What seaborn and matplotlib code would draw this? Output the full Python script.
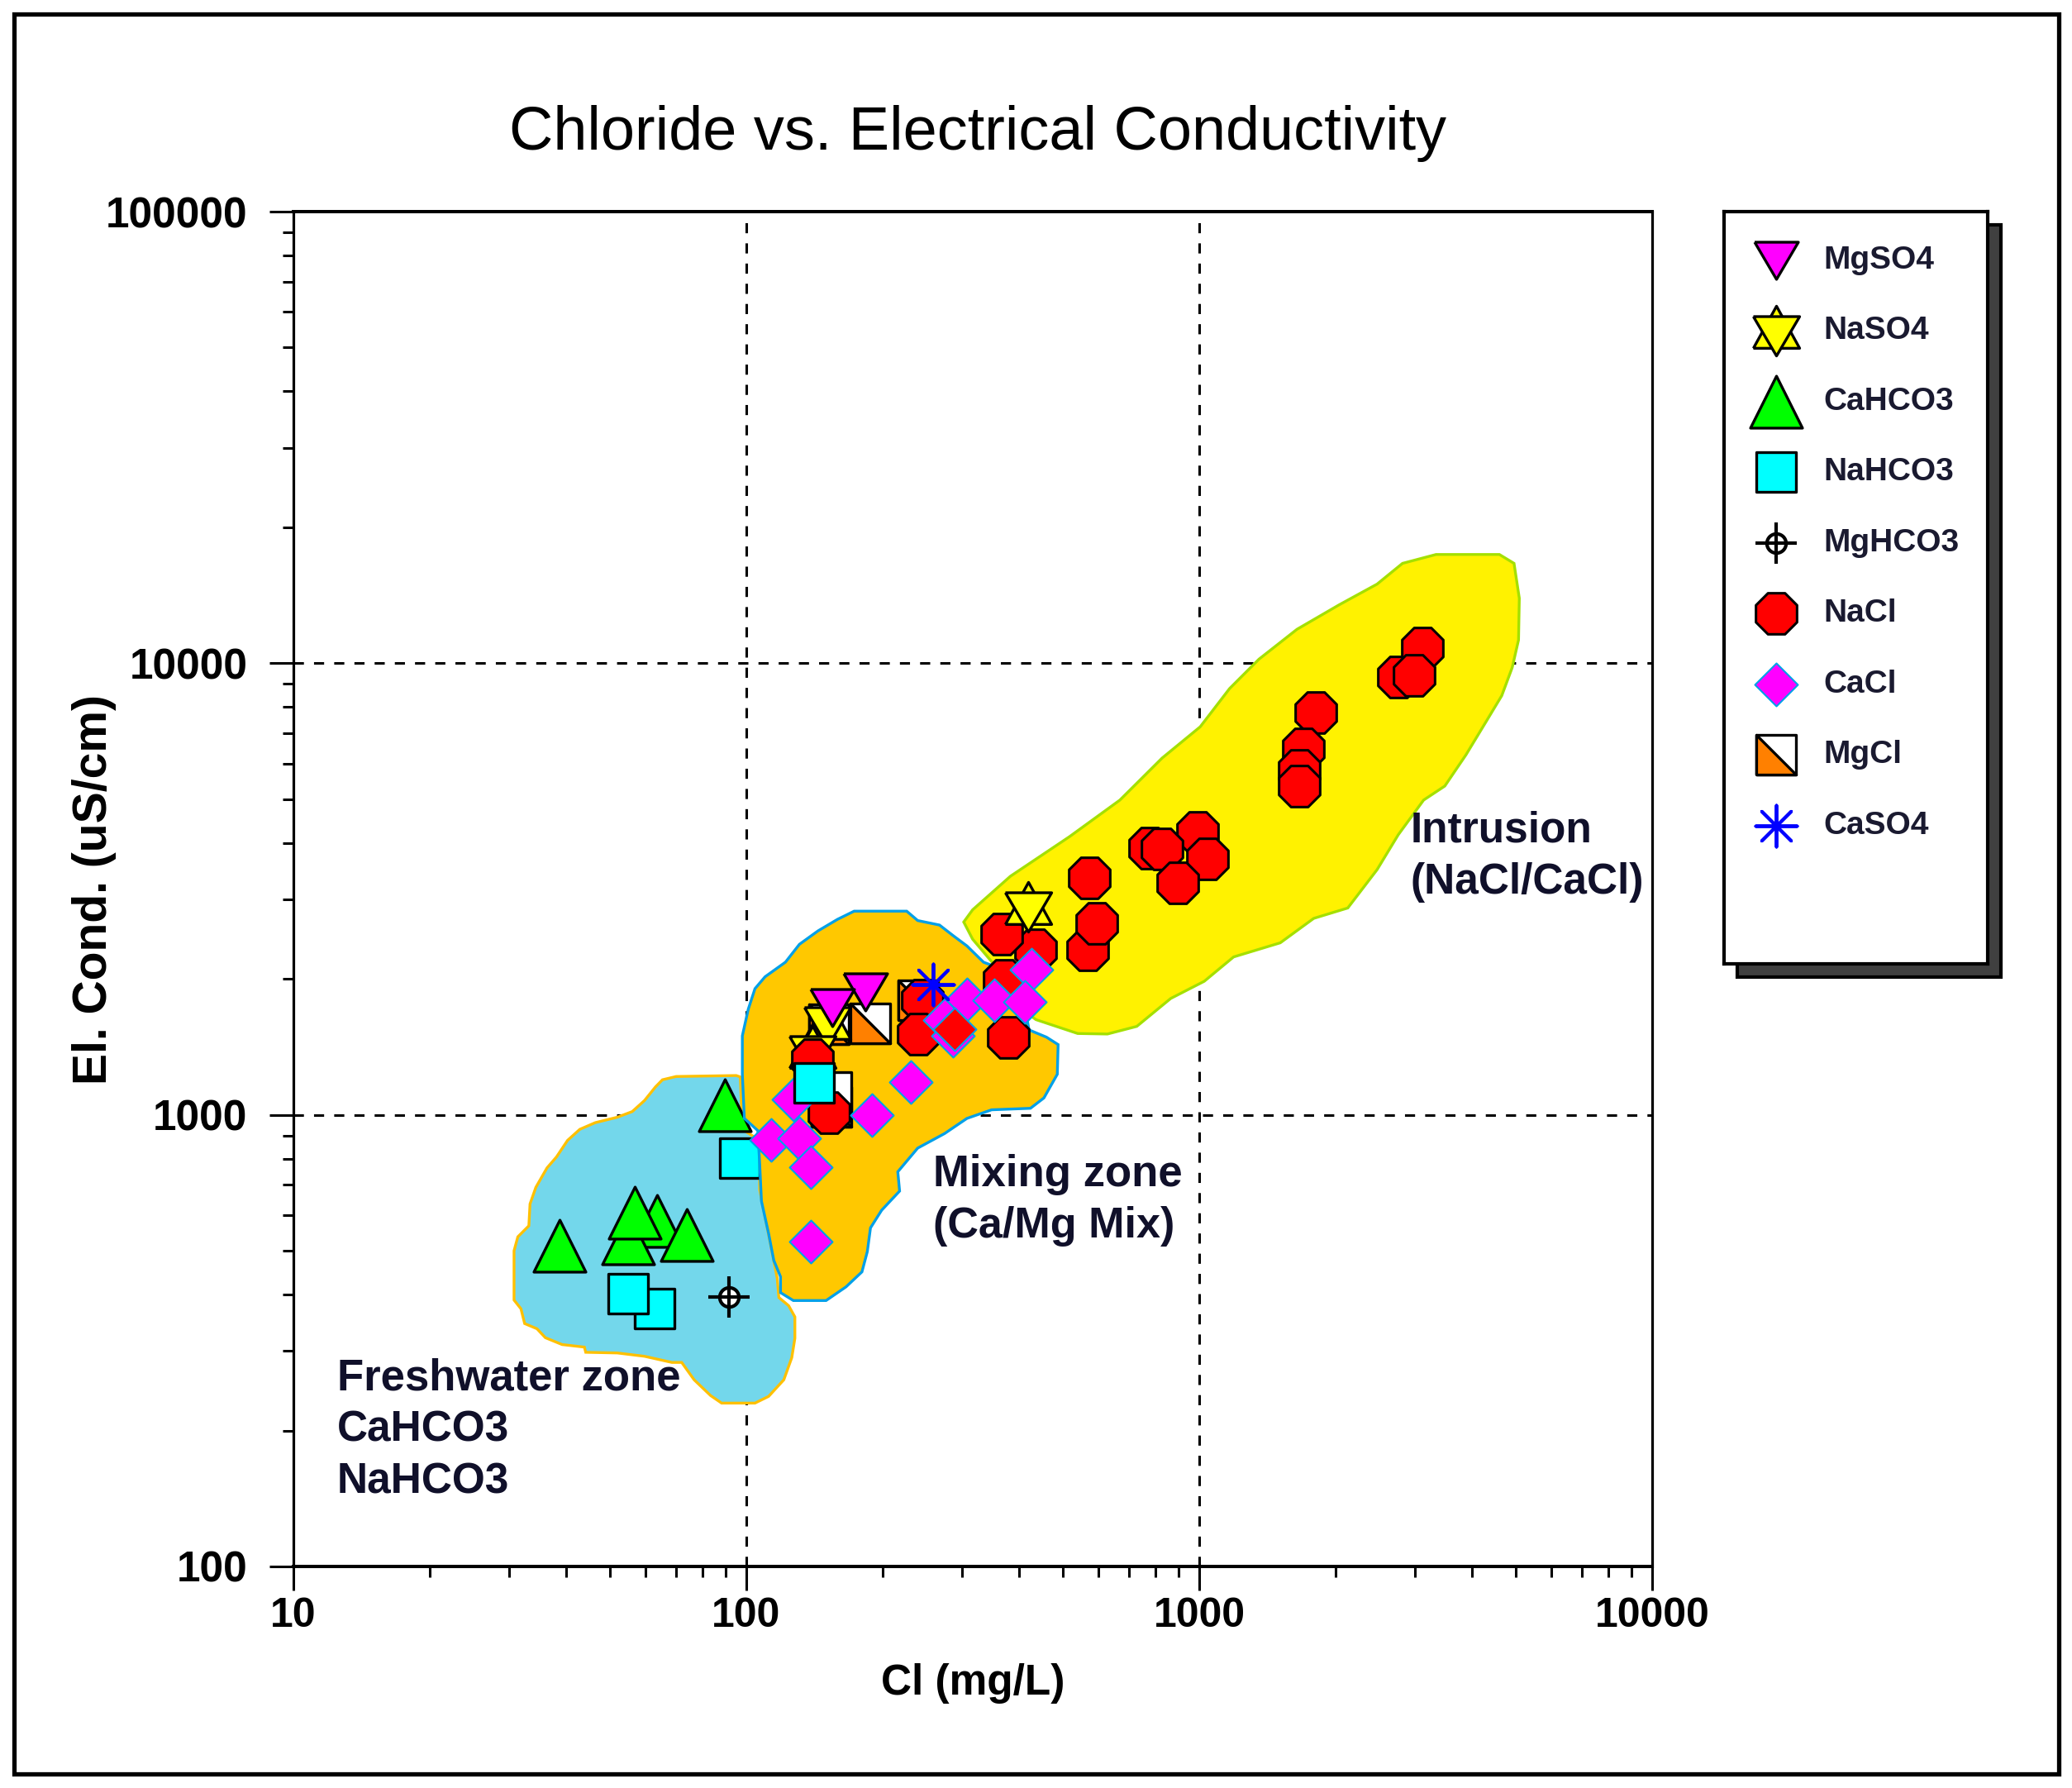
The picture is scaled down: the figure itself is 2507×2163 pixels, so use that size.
import matplotlib
matplotlib.use("Agg")
import matplotlib.pyplot as plt
from matplotlib.patches import Polygon, Rectangle
from matplotlib.ticker import FixedLocator, NullFormatter
import numpy as np
import pandas as pd
import seaborn as sns

sns.set_theme(style="white")
plt.rcParams["font.family"] = ["Liberation Sans", "DejaVu Sans"]

# samples, Cl (mg/L) and EC (uS/cm)
mgso4_cl = [183, 155]
mgso4_ec = [1870, 1730]
naso4_cl = [419, 151, 140]
naso4_ec = [2888, 1609, 1389]
cahco3_cl = [89.7, 38.7, 63.5, 54.8, 56.8, 74]
cahco3_ec = [1052, 514, 583, 533, 608, 542]
nahco3_cl = [96.6, 62.7, 54.8, 141]
nahco3_ec = [803, 372, 401, 1175]
mghco3_cl = [91.6]
mghco3_ec = [395]
nacl_cl = [2754, 3113, 2979, 1807, 1698, 1663, 1663, 993, 777, 827, 1042, 895, 572, 567, 594,
           436, 366, 371, 379, 245, 240, 140, 152]
nacl_ec = [9310, 10790, 9420, 7762, 6471, 5794, 5334, 4217, 3904, 3873, 3681, 3258, 3342, 2323, 2650,
           2323, 2518, 1982, 1486, 1791, 1507, 1327, 1012]
cacl_cl = [231, 189, 127, 113.5, 131, 139, 139, 307, 352, 426, 412, 274, 286]
cacl_ec = [1183, 1000, 1084, 881, 889, 765, 525, 1803, 1791, 2099, 1778, 1622, 1494]
mgcl_cl = [188, 240, 154, 154, 152]
mgcl_ec = [1596, 1791, 1042, 1125, 1589]
caso4_cl = [259]
caso4_ec = [1941]
red_diamond_cl = [288]
red_diamond_ec = [1545]

# zone outlines
fresh_cl = [95, 70, 65.3, 63, 59.6, 56, 51.9, 46.4, 42.9, 40.3, 38.1, 36.3, 34.3, 33.3, 33.1, 31.3, 30.7, 30.7,
            31.8, 32.4, 34.5, 36, 39.2, 43.9, 44.2, 51.9, 59.6, 68.5, 72, 76.7, 83.4, 88.2, 104.5, 112, 121, 126,
            128, 128, 124, 118, 117, 107, 107, 98, 97]
fresh_ec = [1222, 1216, 1196, 1153, 1076, 1017, 988, 961, 929, 878, 807, 763, 691, 635, 568, 537, 500, 389,
            372, 345, 336, 321, 310, 306, 298, 297, 292, 283, 283, 259, 239, 230, 230, 238, 259, 290,
            320, 357, 378, 394, 435, 683, 878, 929, 1213]
mixing_cl = [98, 98, 101, 104.5, 110, 122, 131, 144, 159, 173, 226, 239, 267, 286, 307, 334, 368, 389, 415, 421,
             460, 488, 486, 454, 424, 348, 307, 274, 239, 216, 218, 199, 188, 185, 180, 166, 150, 127, 119, 119,
             115, 112, 108, 107, 106, 99]
mixing_ec = [1230, 1496, 1714, 1903, 2022, 2178, 2386, 2555, 2710, 2825, 2825, 2693, 2632, 2495, 2366, 2178, 2099,
             1845, 1663, 1542, 1486, 1431, 1230, 1090, 1034, 1026, 982, 909, 844, 748, 678, 615, 562, 498, 449, 416,
             388, 388, 404, 438, 476, 546, 644, 783, 923, 982]
intrusion_cl = [302, 316, 383, 517, 668, 828, 1005, 1167, 1355, 1644, 2037, 2470, 2811, 3333, 4600, 4955, 5090,
                5070, 4909, 4655, 4320, 3880, 3485, 3129, 2750, 2470, 2128, 1790, 1510, 1191, 1026, 865, 728, 627,
                539, 436, 404, 383, 351, 316]
intrusion_ec = [2673, 2845, 3376, 4130, 4977, 6166, 7232, 8790, 10210, 11890, 13470, 14970, 16640, 17410, 17410,
                16640, 13930, 11260, 9780, 8475, 7485, 6266, 5346, 4977, 4169, 3491, 2871, 2723, 2404, 2237, 1976,
                1810, 1570, 1510, 1514, 1625, 1716, 1875, 2162, 2449]

legend_names = ["MgSO4", "NaSO4", "CaHCO3", "NaHCO3", "MgHCO3", "NaCl", "CaCl", "MgCl", "CaSO4"]
x_ticks = [10, 100, 1000, 10000]
y_ticks = [100, 1000, 10000, 100000]

W, H = 2507, 2163
BLACK = "#000000"
# custom triangle markers, closed so that every side gets its edge
lower_tri = [(-1, -1), (1, -1), (-1, 1), (-1, -1)]
flat_down = [(-1, 0.85), (1, 0.85), (0, -0.85), (-1, 0.85)]
star_down = [(-1, 0.625), (1, 0.625), (0, -1.075), (-1, 0.625)]
star_up = [(-1, -0.745), (1, -0.745), (0, 1.075), (-1, -0.745)]


def pts(ax, x, y, marker, s, color, edge=BLACK, lw=2.4, z=6):
    sns.scatterplot(x=x, y=y, ax=ax, marker=marker, s=s, color=color, edgecolor=edge,
                    linewidth=lw, zorder=z, legend=False)


def draw_series(ax, name, x, y, z=6):
    if len(x) == 0:
        return
    if name == "MgSO4":
        pts(ax, x, y, flat_down, 1450, "#FF00FF", z=z)
    elif name == "NaSO4":
        pts(ax, x, y, star_up, 1877, "#FFFF00", z=z)
        pts(ax, x, y, star_down, 1877, "#FFFF00", z=z)
    elif name == "CaHCO3":
        pts(ax, x, y, "^", 2050, "#00FF00", z=z)
    elif name == "NaHCO3":
        pts(ax, x, y, "s", 1200, "#00FFFF", z=z)
    elif name == "MgHCO3":
        pts(ax, x, y, "o", 280, "#FFFFFF", lw=3, z=z)
        pts(ax, x, y, "+", 1250, BLACK, lw=3, z=z)
    elif name == "NaCl":
        pts(ax, x, y, "8", 1500, "#FF0000", lw=2.2, z=z)
    elif name == "CaCl":
        pts(ax, x, y, "D", 700, "#FF00FF", edge="#00A0E8", lw=1.5, z=z)
    elif name == "MgCl":
        pts(ax, x, y, "s", 1200, "#FFFFFF", z=z)
        pts(ax, x, y, lower_tri, 1200, "#FF8000", z=z)
    elif name == "CaSO4":
        sns.scatterplot(x=x, y=y, ax=ax, marker=(8, 2, 0), s=1300, color="#0000FF",
                        linewidth=2.8, zorder=z, legend=False)


fig = plt.figure(figsize=(W / 100, H / 100), dpi=100, facecolor="white")
fig.add_artist(Rectangle((17 / W, 1 - 2146 / H), (2491 - 17) / W, (2146 - 17) / H, transform=fig.transFigure,
                         fill=False, edgecolor=BLACK, linewidth=3.8, zorder=-2))
ax = fig.add_axes([355 / W, 1 - 1895 / H, (1999 - 355) / W, (1895 - 256) / H])
ax.set_xscale("log")
ax.set_yscale("log")
ax.set_xlim(10, 10000)
ax.set_ylim(100, 100000)
ax.set_facecolor("white")

for v in [100, 1000]:
    ax.axvline(v, color=BLACK, lw=2.2, dashes=(4, 4), zorder=1)
for v in [1000, 10000]:
    ax.axhline(v, color=BLACK, lw=2.2, dashes=(4, 4), zorder=1)

ax.add_patch(Polygon(np.column_stack([intrusion_cl, intrusion_ec]), closed=True, facecolor="#FFF200",
                     edgecolor="#A4E000", lw=2.4, zorder=2))
ax.add_patch(Polygon(np.column_stack([fresh_cl, fresh_ec]), closed=True, facecolor="#73D7EB",
                     edgecolor="#FFC000", lw=2.4, zorder=2))
ax.add_patch(Polygon(np.column_stack([mixing_cl, mixing_ec]), closed=True, facecolor="#FFC800",
                     edgecolor="#00A0E8", lw=2.4, zorder=4))

df = pd.concat([
    pd.DataFrame({"kind": k, "cl": c, "ec": e}) for k, c, e in [
        ("NaCl", nacl_cl, nacl_ec), ("MgCl", mgcl_cl, mgcl_ec), ("CaHCO3", cahco3_cl, cahco3_ec),
        ("NaHCO3", nahco3_cl, nahco3_ec), ("MgHCO3", mghco3_cl, mghco3_ec), ("NaSO4", naso4_cl, naso4_ec),
        ("MgSO4", mgso4_cl, mgso4_ec), ("CaCl", cacl_cl, cacl_ec), ("CaSO4", caso4_cl, caso4_ec),
    ]
])

# the freshwater points sit under the mixing zone, the rest on top
for name in ["CaHCO3", "NaHCO3", "MgHCO3"]:
    sub = df[(df.kind == name) & (df.cl < 100)]
    draw_series(ax, name, sub.cl.values, sub.ec.values, z=3)

draw_series(ax, "MgCl", df[df.kind == "MgCl"].cl.values, df[df.kind == "MgCl"].ec.values, z=5)
low = df[(df.kind == "NaSO4") & (df.cl < 200)]
draw_series(ax, "NaSO4", low.cl.values, low.ec.values, z=6)
for z, name in enumerate(["NaCl", "CaCl"]):
    sub = df[df.kind == name]
    draw_series(ax, name, sub.cl.values, sub.ec.values, z=7 + z)
high = df[(df.kind == "NaSO4") & (df.cl >= 200)]
draw_series(ax, "NaSO4", high.cl.values, high.ec.values, z=9)
pts(ax, red_diamond_cl, red_diamond_ec, "D", 700, "#FF0000", edge="#00A0E8", lw=1.5, z=9)
for z, name in enumerate(["MgSO4", "NaHCO3", "CaSO4"]):
    sub = df[(df.kind == name) & (df.cl >= 100)]
    draw_series(ax, name, sub.cl.values, sub.ec.values, z=10 + z)

ax.xaxis.set_major_locator(FixedLocator(x_ticks))
ax.yaxis.set_major_locator(FixedLocator(y_ticks))
ax.set_xticklabels([str(v) for v in x_ticks], fontsize=36, fontweight="bold", color=BLACK)
ax.set_yticklabels([str(v) for v in y_ticks], fontsize=37, fontweight="bold", color=BLACK)
ax.xaxis.set_minor_locator(FixedLocator([m * 10 ** d for d in range(1, 4) for m in range(2, 10)]))
ax.yaxis.set_minor_locator(FixedLocator([m * 10 ** d for d in range(2, 5) for m in range(2, 10)]))
ax.xaxis.set_minor_formatter(NullFormatter())
ax.yaxis.set_minor_formatter(NullFormatter())
ax.tick_params(which="major", direction="out", length=21, width=2.2, color=BLACK, bottom=True, left=True)
ax.tick_params(which="minor", direction="out", length=9.4, width=2.2, color=BLACK, bottom=True, left=True)
ax.tick_params(axis="x", which="major", pad=6)
ax.tick_params(axis="y", which="major", pad=19)
for key, sp in ax.spines.items():
    sp.set_visible(True)
    sp.set_color(BLACK)
    sp.set_linewidth(2.9 if key in ("top", "bottom") else 2.3)
    sp.set_zorder(20)

ax.set_xlabel("Cl (mg/L)", fontsize=37, fontweight="bold", color=BLACK, labelpad=24)
ax.set_ylabel("El. Cond. (uS/cm)", fontsize=41, fontweight="bold", color=BLACK)
ax.yaxis.set_label_coords(-0.130, 0.5)
fig.text(1183 / W, 1 - 162 / H, "Chloride vs. Electrical Conductivity", fontsize=53.2, color=BLACK,
         ha="center", va="center")

note_kw = dict(color="#10102a", va="center", ha="left", zorder=30, fontweight="bold")
for x, y, t, fs in [(12.5, 261, "Freshwater zone", 38), (12.5, 200.6, "CaHCO3", 37), (12.5, 154, "NaHCO3", 37),
                    (258, 737, "Mixing zone", 38), (258, 567, "(Ca/Mg Mix)", 37.5),
                    (2930, 4250, "Intrusion", 37), (2930, 3270, "(NaCl/CaCl)", 37)]:
    ax.text(x, y, t, fontsize=fs, **note_kw)

# legend panel with its double shadow
fig.add_artist(Rectangle((2102 / W, 1 - 1182 / H), 319 / W, 910 / H, transform=fig.transFigure,
                         facecolor="#404040", edgecolor=BLACK, linewidth=3, zorder=-1))
lax = fig.add_axes([2086 / W, 1 - 1166 / H, 319 / W, 910 / H], zorder=5)
lax.set_facecolor("white")
lax.set_xticks([])
lax.set_yticks([])
for sp in lax.spines.values():
    sp.set_visible(True)
    sp.set_color(BLACK)
    sp.set_linewidth(3)
for i, name in enumerate(legend_names):
    draw_series(lax, name, [63], [i])
    lax.text(120, i, name, fontsize=28, fontweight="bold", color="#1a1a30", va="center", ha="left")
lax.set_xlim(0, 319)
lax.set_ylim(9.96, -0.69)
lax.set_xlabel("")
lax.set_ylabel("")

fig.savefig("out.png", dpi=100, facecolor="white")
